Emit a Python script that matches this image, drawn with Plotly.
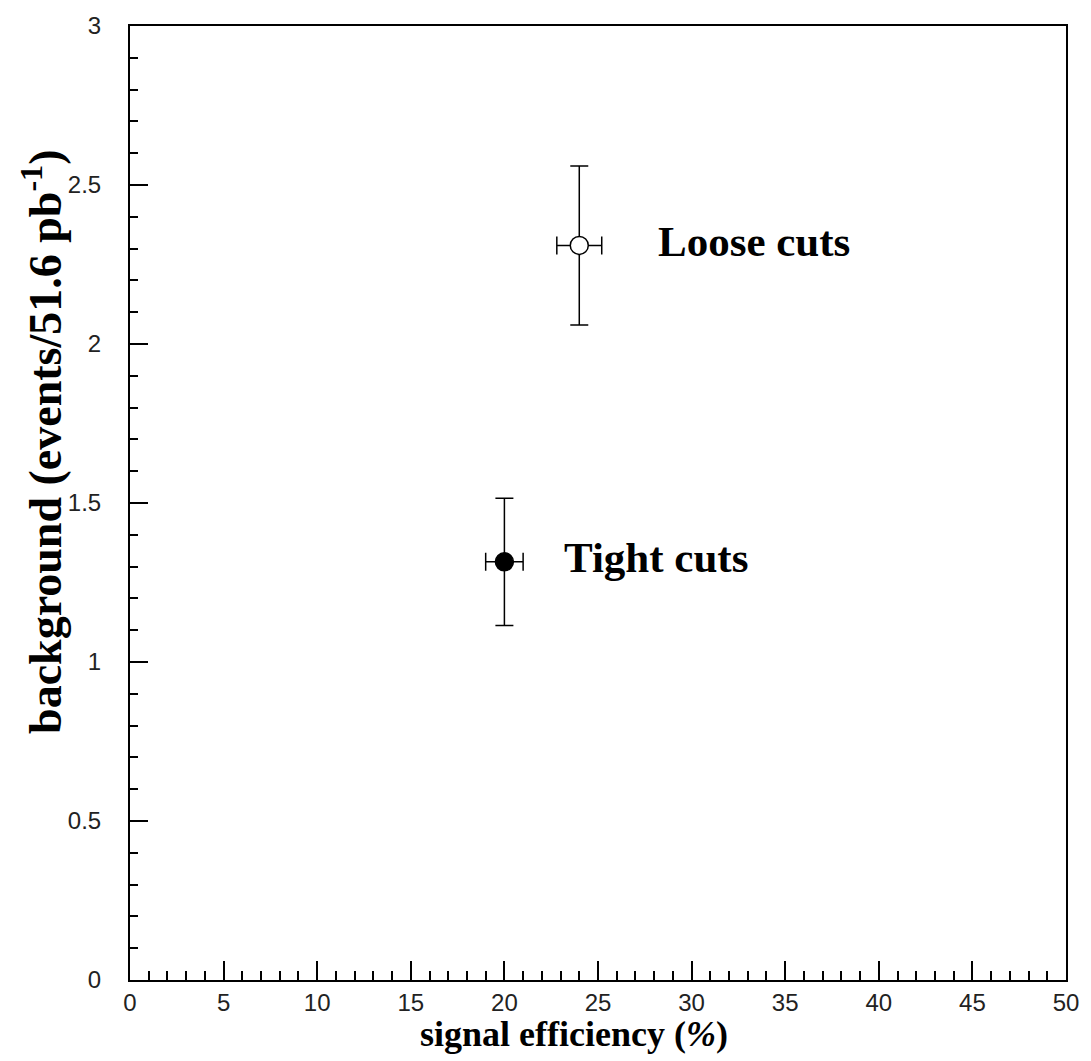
import plotly.graph_objects as go

# Selection working points: signal efficiency vs expected background
labels = ["Loose cuts", "Tight cuts"]
efficiency = [24.0, 20.0]          # %
efficiency_err = [1.2, 1.0]        # %
background = [2.31, 1.315]         # events / 51.6 pb^-1
background_err = [0.25, 0.20]
marker_fill = ["white", "black"]

x_tickvals = [0, 5, 10, 15, 20, 25, 30, 35, 40, 45, 50]
y_tickvals = [0, 0.5, 1, 1.5, 2, 2.5, 3]
y_ticktext = ["0", "0.5", "1", "1.5", "2", "2.5", "3"]

# horizontal gap (px) between each point and its label
label_gap = [77, 58]

fig = go.Figure()

for i, name in enumerate(labels):
    fig.add_trace(go.Scatter(
        x=[efficiency[i]], y=[background[i]],
        mode="markers",
        marker=dict(symbol="circle", size=18, color=marker_fill[i],
                    line=dict(color="black", width=1.5)),
        error_x=dict(type="data", array=[efficiency_err[i]], color="black",
                     thickness=1.5, width=9),
        error_y=dict(type="data", array=[background_err[i]], color="black",
                     thickness=1.5, width=9),
        showlegend=False,
        name=name,
    ))
    fig.add_annotation(
        x=efficiency[i], y=background[i], xref="x", yref="y",
        text="<b>" + name + "</b>", showarrow=False,
        xanchor="left", yanchor="middle", xshift=label_gap[i], yshift=4,
        font=dict(family="Liberation Serif", size=43, color="black"),
    )

# axis titles
fig.add_annotation(
    x=0.4746, y=-0.0564, xref="paper", yref="paper",
    text="<b>signal efficiency (<i>%</i>)</b>", showarrow=False,
    xanchor="center", yanchor="middle",
    font=dict(family="Liberation Serif", size=36, color="black"),
)
fig.add_annotation(
    x=0, y=0.564, xref="paper", yref="paper", xshift=-88,
    text="<b>background (events/51.6 pb<sup>-1</sup>)</b>", showarrow=False,
    textangle=-90, xanchor="center", yanchor="middle",
    font=dict(family="Liberation Serif", size=46, color="black"),
)

tick_font = dict(family="Liberation Sans", size=24, color="#222")

fig.update_layout(
    width=1091, height=1061,
    margin=dict(l=130, r=17, t=22, b=81),
    paper_bgcolor="white", plot_bgcolor="white",
    xaxis=dict(
        range=[0, 50], tickvals=x_tickvals,
        ticks="inside", ticklen=19, tickwidth=1.5, tickcolor="black",
        minor=dict(dtick=1, ticks="inside", ticklen=9, tickwidth=1.5, tickcolor="black"),
        showline=True, linecolor="black", linewidth=2, mirror=True,
        showgrid=False, zeroline=False,
        tickfont=tick_font, ticklabelstandoff=0,
    ),
    yaxis=dict(
        range=[0, 3], tickvals=y_tickvals, ticktext=y_ticktext,
        ticks="inside", ticklen=18, tickwidth=1.5, tickcolor="black",
        minor=dict(dtick=0.1, ticks="inside", ticklen=8, tickwidth=1.5, tickcolor="black"),
        showline=True, linecolor="black", linewidth=2, mirror=True,
        showgrid=False, zeroline=False,
        tickfont=tick_font, ticklabelstandoff=22,
    ),
)

fig.write_html("out.html")
